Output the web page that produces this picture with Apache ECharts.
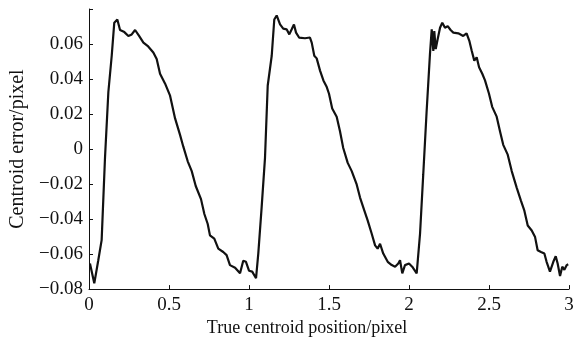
<!DOCTYPE html>
<html>
<head>
<meta charset="utf-8">
<script src="https://cdn.jsdelivr.net/npm/echarts@6/dist/echarts.min.js"></script>
<style>html,body{margin:0;padding:0;background:#fff;}#c{width:578px;height:342px;}</style>
</head>
<body>
<div id="c"></div>
<script>
var xValues = [
0.006,0.033,0.058,0.079,0.100,0.121,0.142,0.158,0.177,0.194,0.221,0.246,0.267,0.288,0.313,0.340,0.370,0.402,0.423,0.444,
0.475,0.506,0.538,0.569,0.589,0.617,0.642,0.667,0.700,0.721,0.742,0.756,0.783,0.808,0.839,0.860,0.881,0.913,0.944,0.964,
0.981,1.000,1.020,1.044,1.058,1.079,1.100,1.117,1.142,1.158,1.173,1.194,1.214,1.235,1.252,1.267,1.281,1.294,1.313,1.350,
1.381,1.392,1.408,1.423,1.444,1.465,1.486,1.500,1.520,1.548,1.569,1.589,1.617,1.642,1.673,1.694,1.721,1.742,1.767,1.788,
1.804,1.819,1.839,1.867,1.892,1.913,1.933,1.944,1.958,1.975,2.000,2.020,2.048,2.069,2.089,2.110,2.131,2.142,2.152,2.158,
2.167,2.179,2.194,2.208,2.225,2.242,2.260,2.277,2.308,2.339,2.360,2.377,2.392,2.408,2.423,2.438,2.458,2.475,2.500,2.520,
2.548,2.569,2.589,2.617,2.642,2.673,2.700,2.721,2.742,2.767,2.788,2.804,2.825,2.846,2.860,2.881,2.902,2.917,2.929,2.944,
2.958,2.971,2.986,2.995
];
var yValues = [
-0.0654,-0.0767,-0.0635,-0.0520,-0.0050,0.0326,0.0533,0.0722,0.0740,0.0680,0.0668,0.0646,0.0655,0.0680,0.0646,0.0608,0.0586,0.0552,0.0514,0.0430,
0.0375,0.0307,0.0175,0.0081,0.0015,-0.0070,-0.0126,-0.0211,-0.0286,-0.0371,-0.0428,-0.0493,-0.0512,-0.0569,-0.0588,-0.0606,-0.0663,-0.0678,-0.0710,-0.0638,
-0.0644,-0.0695,-0.0700,-0.0738,-0.0597,-0.0333,-0.0050,0.0363,0.0533,0.0740,0.0763,0.0712,0.0688,0.0684,0.0655,0.0684,0.0712,0.0665,0.0637,0.0633,
0.0637,0.0608,0.0533,0.0518,0.0448,0.0392,0.0354,0.0316,0.0232,0.0185,0.0100,0.0006,-0.0079,-0.0126,-0.0202,-0.0277,-0.0352,-0.0409,-0.0484,-0.0550,
-0.0569,-0.0541,-0.0597,-0.0644,-0.0663,-0.0672,-0.0654,-0.0635,-0.0710,-0.0663,-0.0654,-0.0672,-0.0710,-0.0484,-0.0145,0.0213,0.0542,0.0684,0.0561,0.0674,
0.0571,0.0627,0.0693,0.0722,0.0693,0.0702,0.0680,0.0665,0.0661,0.0646,0.0661,0.0618,0.0561,0.0505,0.0524,0.0467,0.0430,0.0392,0.0316,0.0241,
0.0185,0.0100,0.0024,-0.0032,-0.0126,-0.0220,-0.0296,-0.0352,-0.0437,-0.0465,-0.0503,-0.0578,-0.0588,-0.0597,-0.0644,-0.0700,-0.0644,-0.0612,-0.0654,-0.0725,
-0.0672,-0.0690,-0.0663,-0.0658
];
var xAxisTitle = 'True centroid position/pixel';
var yAxisTitle = 'Centroid error/pixel';

var data = xValues.map(function (x, i) { return [x, yValues[i]]; });
var FONT = '"Liberation Serif", "DejaVu Serif", serif';

function fmtY(v) {
  if (Math.abs(v - 0.08) < 1e-9) return '';
  if (Math.abs(v) < 1e-9) return '0';
  var s = Math.abs(v).toFixed(2);
  return (v < 0 ? '\u2212' : '') + s;
}
function fmtX(v) {
  return String(Math.round(v * 10) / 10);
}

var chart = echarts.init(document.getElementById('c'), null, { renderer: 'canvas' });
chart.setOption({
  animation: false,
  backgroundColor: '#ffffff',
  grid: { left: 89, right: 9, top: 9, bottom: 49, containLabel: false },
  xAxis: {
    type: 'value', min: 0, max: 3, interval: 0.5,
    name: xAxisTitle, nameLocation: 'middle', nameGap: 19,
    nameTextStyle: { fontFamily: FONT, fontSize: 18, color: '#111', padding: [0, 44, 0, 0] },
    axisLine: { show: true, onZero: false, lineStyle: { color: '#111', width: 1 } },
    axisTick: { show: true, inside: true, length: 4, lineStyle: { color: '#111' } },
    axisLabel: { fontFamily: FONT, fontSize: 19, color: '#111', margin: 6, formatter: fmtX },
    splitLine: { show: false }
  },
  yAxis: {
    type: 'value', min: -0.08, max: 0.08, interval: 0.02,
    name: yAxisTitle, nameLocation: 'middle', nameGap: 61,
    nameTextStyle: { fontFamily: FONT, fontSize: 20, color: '#111' },
    axisLine: { show: true, onZero: false, lineStyle: { color: '#111', width: 1 } },
    axisTick: { show: true, inside: true, length: 4, lineStyle: { color: '#111' } },
    axisLabel: { fontFamily: FONT, fontSize: 19, color: '#111', margin: 6, formatter: fmtY },
    splitLine: { show: false }
  },
  series: [{
    type: 'line',
    data: data,
    showSymbol: false,
    symbol: 'none',
    smooth: false,
    lineStyle: { color: '#111', width: 2.2 }
  }]
});
</script>
</body>
</html>
